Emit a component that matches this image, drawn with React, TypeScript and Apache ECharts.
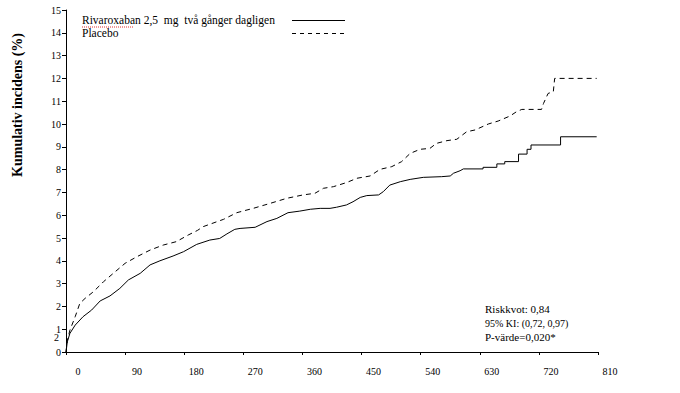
import React, { useEffect, useRef } from "react";
import * as echarts from "echarts";

const xTicks = [0, 90, 180, 270, 360, 450, 540, 630, 720, 810];
const yTicks = [0, 1, 2, 3, 4, 5, 6, 7, 8, 9, 10, 11, 12, 13, 14, 15];

const rivaDays = [0, 2, 6, 14, 26, 39, 52, 67, 82, 95, 113, 128, 143, 163, 179, 199, 219, 234, 245, 257, 265, 288, 306, 321, 338, 356, 372, 387, 402, 412, 427, 437, 448, 458, 476, 483, 493, 509, 524, 544, 572, 585, 590, 600, 605, 635, 635, 656, 656, 668, 668, 689, 689, 702, 702, 708, 708, 753, 753, 808];
const rivaVals = [0, 0.45, 0.82, 1.18, 1.55, 1.84, 2.24, 2.46, 2.79, 3.16, 3.45, 3.82, 4.0, 4.21, 4.4, 4.72, 4.91, 4.98, 5.18, 5.38, 5.42, 5.47, 5.72, 5.86, 6.11, 6.18, 6.26, 6.3, 6.3, 6.35, 6.45, 6.59, 6.78, 6.86, 6.89, 7.03, 7.32, 7.47, 7.57, 7.66, 7.69, 7.72, 7.84, 7.95, 8.03, 8.03, 8.1, 8.1, 8.25, 8.25, 8.35, 8.35, 8.68, 8.68, 8.89, 8.89, 9.08, 9.08, 9.44, 9.44];

const placeboDays = [0, 2, 6, 14, 21, 29, 42, 57, 72, 90, 108, 128, 148, 168, 186, 200, 209, 240, 260, 285, 311, 336, 361, 379, 392, 407, 427, 443, 463, 478, 496, 511, 524, 539, 554, 564, 580, 595, 610, 623, 643, 658, 676, 686, 694, 724, 727, 734, 742, 744, 808];
const placeboVals = [0, 0.5, 0.96, 1.55, 2.13, 2.35, 2.65, 3.08, 3.45, 3.89, 4.18, 4.47, 4.69, 4.84, 5.13, 5.33, 5.5, 5.82, 6.11, 6.3, 6.52, 6.74, 6.89, 6.96, 7.18, 7.25, 7.43, 7.62, 7.72, 8.01, 8.13, 8.35, 8.71, 8.89, 8.93, 9.15, 9.27, 9.33, 9.66, 9.74, 10.0, 10.13, 10.35, 10.54, 10.64, 10.64, 10.9, 11.34, 11.42, 12.0, 12.0];

const seriesNames = ["Rivaroxaban 2,5  mg  två gånger dagligen", "Placebo"];
const yTitle = "Kumulativ incidens (%)";
const statLines = ["Riskkvot: 0,84", "95% KI: (0,72, 0,97)", "P-värde=0,020*"];

const FONT = "'Liberation Serif', 'Times New Roman', serif";

export default function App() {
  const ref = useRef<HTMLDivElement>(null);
  useEffect(() => {
    if (!ref.current) return;
    const chart = echarts.init(ref.current, undefined, { renderer: "svg" });
    const toPairs = (d: number[], v: number[]) => d.map((x, i) => [x, v[i]]);
    chart.setOption({
      animation: false,
      backgroundColor: "#fff",
      grid: { left: 66, right: 82, top: 10, bottom: 41, containLabel: false, outerBoundsMode: "none" },
      xAxis: {
        type: "value",
        min: 0,
        max: 810,
        interval: 90,
        axisLine: { show: true, lineStyle: { color: "#000", width: 1 } },
        axisTick: { show: true, inside: false, length: 3, lineStyle: { color: "#000" } },
        splitLine: { show: false },
        axisLabel: {
          color: "#000",
          fontFamily: FONT,
          fontSize: 10,
          margin: 14,
          padding: [0, 0, 0, 24],
          formatter: (v: number) => (xTicks.includes(v) ? String(v) : ""),
        },
      },
      yAxis: {
        type: "value",
        min: 0,
        max: 15,
        interval: 1,
        axisLine: { show: true, lineStyle: { color: "#000", width: 1 } },
        axisTick: { show: true, inside: false, length: 4, lineStyle: { color: "#000" } },
        splitLine: { show: false },
        axisLabel: {
          color: "#000",
          fontFamily: FONT,
          fontSize: 10,
          margin: 5,
          formatter: (v: number) => (yTicks.includes(v) ? String(v) : ""),
        },
      },
      series: [
        {
          name: seriesNames[0],
          type: "line",
          data: toPairs(rivaDays, rivaVals),
          showSymbol: false,
          lineStyle: { color: "#000", width: 1, type: "solid" },
        },
        {
          name: seriesNames[1],
          type: "line",
          data: toPairs(placeboDays, placeboVals),
          showSymbol: false,
          lineStyle: { color: "#000", width: 1, type: [5, 4] },
        },
      ],
      graphic: [
        {
          type: "text",
          x: 17,
          y: 105,
          rotation: Math.PI / 2,
          style: { text: yTitle, fill: "#000", font: `bold 14px ${FONT}`, align: "center", verticalAlign: "middle" },
        },
        { type: "text", left: 82, top: 14, style: { text: seriesNames[0], fill: "#000", font: `11.5px ${FONT}` } },
        { type: "text", left: 82, top: 27, style: { text: seriesNames[1], fill: "#000", font: `11.5px ${FONT}` } },
        { type: "line", shape: { x1: 82, y1: 27, x2: 134, y2: 27 }, style: { stroke: "#e03030", lineWidth: 1, lineDash: [1, 1] } },
        { type: "line", shape: { x1: 292, y1: 20.5, x2: 345, y2: 20.5 }, style: { stroke: "#000", lineWidth: 1 } },
        { type: "line", shape: { x1: 292, y1: 33.5, x2: 345, y2: 33.5 }, style: { stroke: "#000", lineWidth: 1, lineDash: [4, 4] } },
        { type: "text", left: 485, top: 303, style: { text: statLines[0], fill: "#000", font: `11px ${FONT}` } },
        { type: "text", left: 485, top: 318, style: { text: statLines[1], fill: "#000", font: `10px ${FONT}` } },
        { type: "text", left: 485, top: 331, style: { text: statLines[2], fill: "#000", font: `11px ${FONT}` } },
        { type: "text", left: 54, top: 332, style: { text: "2", fill: "#000", font: `10px ${FONT}` } },
      ],
    });
    return () => chart.dispose();
  }, []);
  return <div ref={ref} style={{ position: "absolute", left: 0, top: 0, width: 680, height: 393 }} />;
}
